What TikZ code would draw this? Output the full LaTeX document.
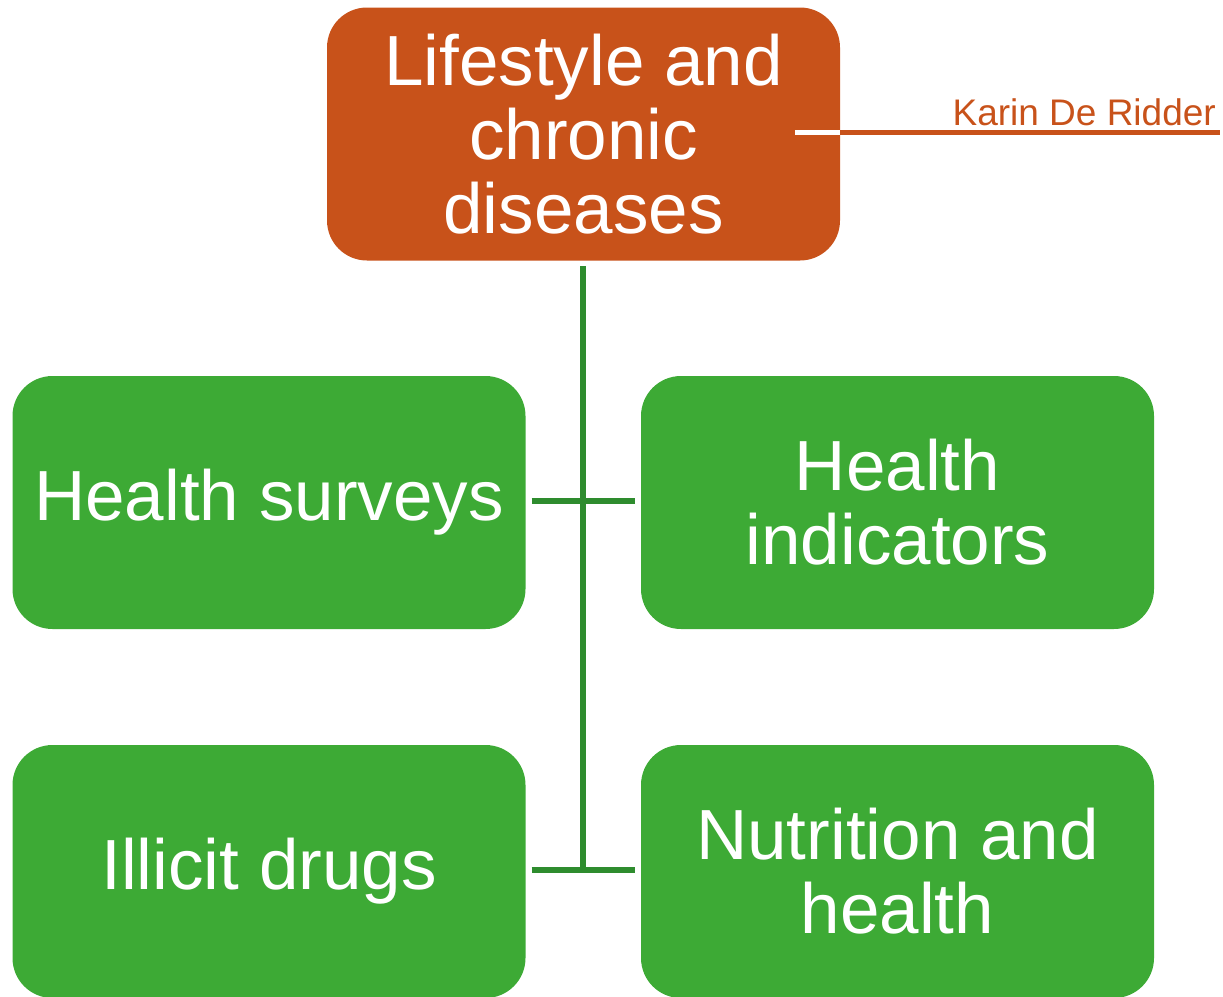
\documentclass[tikz,border=0pt]{standalone}
\usepackage{fontspec}
\setmainfont{Liberation Sans}
\definecolor{orng}{RGB}{200,82,26}
\definecolor{grn}{RGB}{61,170,53}
\definecolor{dgrn}{RGB}{46,140,46}
\begin{document}
\begin{tikzpicture}[x=1pt,y=-1pt,
  box/.style={rounded corners=40pt, minimum width=513pt, minimum height=253pt, inner sep=0pt,
    text=white, align=center, font=\fontsize{71}{74}\selectfont, anchor=center},
  topbox/.style={box, fill=orng},
  subbox/.style={box, fill=grn},
  conn/.style={draw=dgrn, line width=6pt}]
\useasboundingbox (0,0) rectangle (1223,996);
\begin{scope}
\clip (0,0) rectangle (1223,996);
\node[topbox] (top) at (583.5,134) {Lifestyle and\\chronic\\diseases};
\node[subbox] (hs) at (269,502.5) {Health surveys};
\node[subbox] (hi) at (897.5,502.5) {Health\\indicators};
\node[subbox] (id) at (269,871.5) {Illicit drugs};
\node[subbox] (nh) at (897.5,871.5) {Nutrition and\\health};
\coordinate (vtop) at (583,266);
\coordinate (vbot) at (583,870);
\coordinate (j1) at (583,501);
\draw[conn] (vtop) -- (vbot);
\draw[conn] (hs.east |- j1) ++(6,0) -- ([xshift=-6pt]hi.west |- j1);
\draw[conn] ([xshift=6pt]id.east |- vbot) -- ([xshift=-6pt]nh.west |- vbot);
\coordinate (ws) at (795,132);
\coordinate (we) at (1220,132);
\draw[white, line width=5pt] (ws) -- (top.east |- ws);
\draw[orng, line width=5pt] (top.east |- ws) -- (we);
\node[anchor=base east, text=orng, font=\fontsize{37}{40}\selectfont, inner sep=0pt] (name) at (1216,125) {Karin De Ridder};
\end{scope}
\end{tikzpicture}
\end{document}
